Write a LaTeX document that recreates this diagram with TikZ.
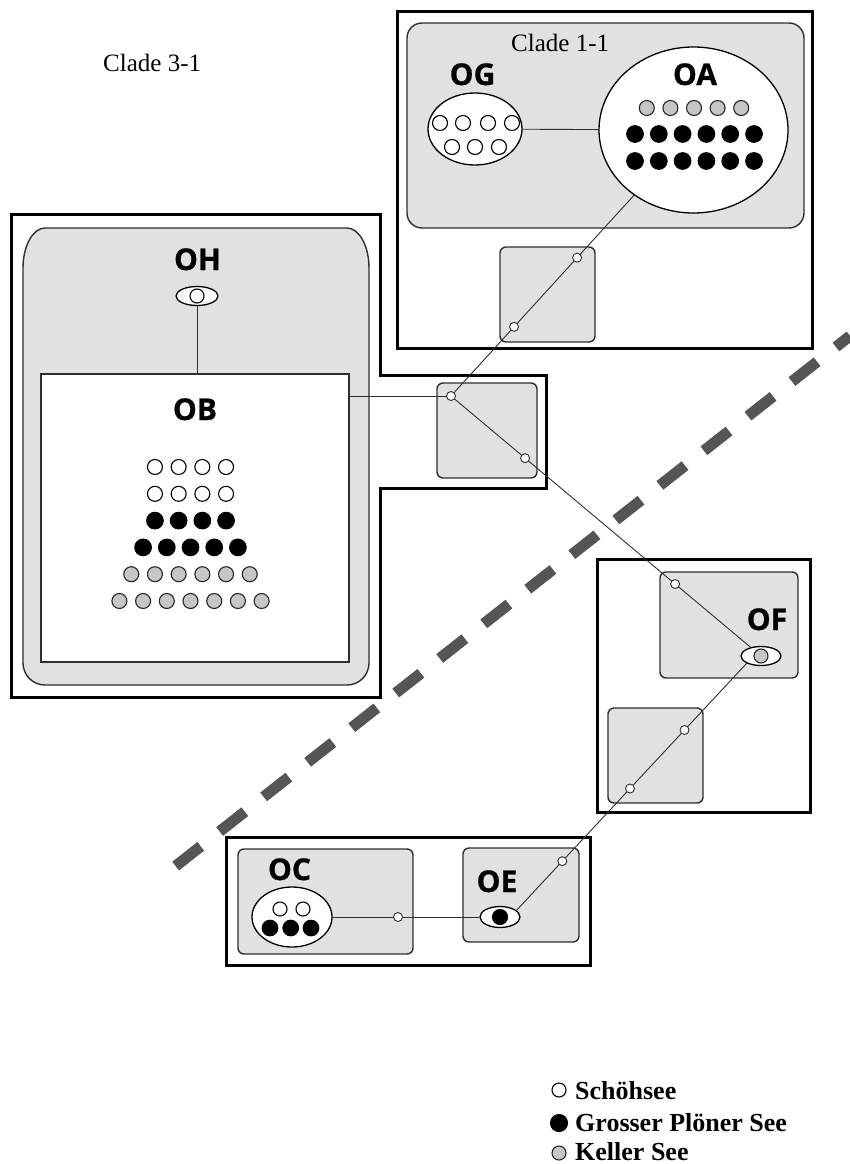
\documentclass[tikz,border=0pt]{standalone}
\usepackage{fontspec}
\setmainfont{Liberation Serif}
\newfontfamily\lblfont{Open Sans}[BoldFeatures={FakeBold=0.8}]
\usetikzlibrary{shapes.geometric,calc}
\pgfdeclarelayer{boxes}
\pgfdeclarelayer{links}
\pgfsetlayers{boxes,links,main}
\definecolor{boxgray}{HTML}{E1E1E1}
\definecolor{dotgray}{HTML}{C6C6C6}
\definecolor{dashgray}{HTML}{555555}
\definecolor{edgegray}{HTML}{2E2E2E}
\begin{document}
\begin{tikzpicture}[x=1pt,y=-1pt,
  outerbox/.style={draw=black,line width=3pt},
  grpbox/.style={draw=edgegray,fill=boxgray,line width=1.4pt,rounded corners=6pt},
  hap/.style={ellipse,draw=black,fill=white,line width=1.3pt,inner sep=0pt},
  junc/.style={circle,draw=edgegray,fill=white,line width=0.9pt,minimum size=9pt,inner sep=0pt},
  link/.style={draw=edgegray,line width=0.9pt},
  lbl/.style={font=\lblfont\bfseries\fontsize{30}{30}\selectfont,inner sep=0pt,anchor=base},
  cladetxt/.style={font=\fontsize{25}{25}\selectfont,inner sep=0pt,anchor=base west},
  legtxt/.style={font=\bfseries\fontsize{26}{26}\selectfont,inner sep=0pt,anchor=base west},
  wdot/.style={draw=black,fill=white,line width=1.1pt,radius=7.5pt},
  bdot/.style={draw=black,fill=black,line width=1.1pt,radius=8.3pt},
  gdot/.style={draw=black!85,fill=dotgray,line width=1.1pt,radius=7.5pt},
]
\useasboundingbox (0,0) rectangle (850,1164);

% ---------- boxes ----------
\begin{pgfonlayer}{boxes}
  \draw[outerbox] (397,12) rectangle (812,348);
  \draw[outerbox] (11,214) -- (380,214) -- (380,375) -- (546,375) -- (546,488)
        -- (380,488) -- (380,697) -- (11,697) -- cycle;
  \draw[outerbox] (597,559) rectangle (810,812);
  \draw[outerbox] (226,837) rectangle (590,965);
  % clade group boxes
  \draw[grpbox,rounded corners=15pt] (407,23) rectangle (804,228);
  \filldraw[draw=edgegray,fill=boxgray,line width=1.4pt]
     (23,268) arc[start angle=180,end angle=90,x radius=22pt,y radius=40pt]
     -- (347,228) arc[start angle=90,end angle=0,x radius=22pt,y radius=40pt]
     -- (369,663) arc[start angle=0,end angle=-90,x radius=22pt,y radius=22pt]
     -- (45,685) arc[start angle=270,end angle=180,x radius=22pt,y radius=22pt]
     -- cycle;
  % small boxes
  \draw[grpbox] (500,247) rectangle (595,342);
  \draw[grpbox] (437,383) rectangle (537,478);
  \draw[grpbox] (660,572) rectangle (798,678);
  \draw[grpbox] (608,708) rectangle (703,803);
  \draw[grpbox] (238,849) rectangle (413,954);
  \draw[grpbox] (463,848) rectangle (579,942);
\end{pgfonlayer}

% ---------- haplotype nodes ----------
\node[hap,minimum width=94pt,minimum height=72pt] (OG) at (475,129) {};
\node[hap,minimum width=189pt,minimum height=166pt] (OA) at (693.5,130) {};
\node[hap,minimum width=42pt,minimum height=19pt] (OH) at (197,296) {};
\node[draw=edgegray,fill=white,line width=1.4pt,minimum width=308pt,minimum height=288pt,inner sep=0pt] (OB) at (195,518) {};
\node[hap,minimum width=40pt,minimum height=19pt] (OF) at (761,656) {};
\node[hap,minimum width=80pt,minimum height=60pt] (OC) at (292,917) {};
\node[hap,minimum width=40pt,minimum height=21pt] (OE) at (500,917) {};

% labels
\node[lbl] (tOG) at (472.5,85) {OG};
\node[lbl] (tOA) at (695,85) {OA};
\node[lbl] (tOH) at (197.5,270) {OH};
\node[lbl] (tOB) at (195,420) {OB};
\node[lbl] (tOF) at (767,630) {OF};
\node[lbl] (tOC) at (289.5,880) {OC};
\node[lbl] (tOE) at (497,892) {OE};
\node[cladetxt] (c31) at (103,71) {Clade 3-1};
\node[cladetxt] (c11) at (511,52) {Clade 1-1};

% dots inside haplotypes
\foreach \x in {440,463,488,512} \filldraw[wdot] (\x,123) circle;
\foreach \x in {452,475,499} \filldraw[wdot] (\x,147) circle;
\foreach \i in {-2,...,2} \filldraw[gdot] ({694+23.6*\i},108) circle;
\foreach \i in {0,...,5} {
  \filldraw[bdot] ({635+23.8*\i},134) circle;
  \filldraw[bdot] ({635+23.8*\i},161) circle;
}
\foreach \n/\st [count=\r from 0] in {4/wdot,4/wdot,4/bdot,5/bdot,6/gdot,7/gdot}
  \foreach \i in {1,...,\n}
    \filldraw[\st] ({190.5+23.7*(\i-(\n+1)/2)},{467+26.8*\r}) circle;
\filldraw[wdot,radius=7pt] (OH.center) circle;
\filldraw[gdot,radius=7pt] (OF.center) circle;
\filldraw[bdot,radius=7.5pt] (OE.center) circle;
\filldraw[wdot,radius=7pt] (280,909) circle;
\filldraw[wdot,radius=7pt] (303,909) circle;
\foreach \x in {270,290.7,311} \filldraw[bdot,radius=7.8pt] (\x,928) circle;

% ---------- junction nodes ----------
\node[junc] (m1) at (451,396) {};
\node[junc] (j2) at ($(m1)!0.26!(OA.center)$) {};
\node[junc] (j1) at ($(m1)!0.52!(OA.center)$) {};
\node[junc] (m2) at ($(m1)!0.239!(OF.center)$) {};
\node[junc] (j3) at ($(m1)!0.723!(OF.center)$) {};
\node[junc] (j4) at ($(OE.22)!0.199!(OF.207)$) {};
\node[junc] (j5) at ($(OE.22)!0.493!(OF.207)$) {};
\node[junc] (j6) at ($(OE.22)!0.73!(OF.207)$) {};
\node[junc] (j7) at (398,917) {};

% ---------- connectors ----------
\begin{pgfonlayer}{links}
  \draw[link] (OG) -- (OA);
  \draw[link] (m1.center) -- (j2.center) -- (j1.center) -- (OA);
  \draw[link] (m1.center) -- (m1 -| OB.east);
  \draw[link] (m1.center) -- (m2.center) -- (j3.center) -- (OF);
  \draw[link] (OE.22) -- (j4.center) -- (j5.center) -- (j6.center) -- (OF.207);
  \draw[link] (OC) -- (j7.center) -- (OE);
  \draw[link] (OH) -- (OH |- OB.north);
\end{pgfonlayer}

% ---------- dividing dashed line ----------
\draw[dashgray,line width=11pt,dash pattern=on 32pt off 24pt] (175.6,866.1) -- (850,335.9);

% ---------- legend ----------
\filldraw[wdot,radius=7pt] (559,1090) circle;
\filldraw[bdot,radius=8.5pt] (559,1123) circle;
\filldraw[gdot,radius=7pt] (559,1153) circle;
\node[legtxt] (l1) at (575,1099) {Schöhsee};
\node[legtxt] (l2) at (575,1131) {Grosser Plöner See};
\node[legtxt] (l3) at (575,1160) {Keller See};
\end{tikzpicture}
\end{document}
